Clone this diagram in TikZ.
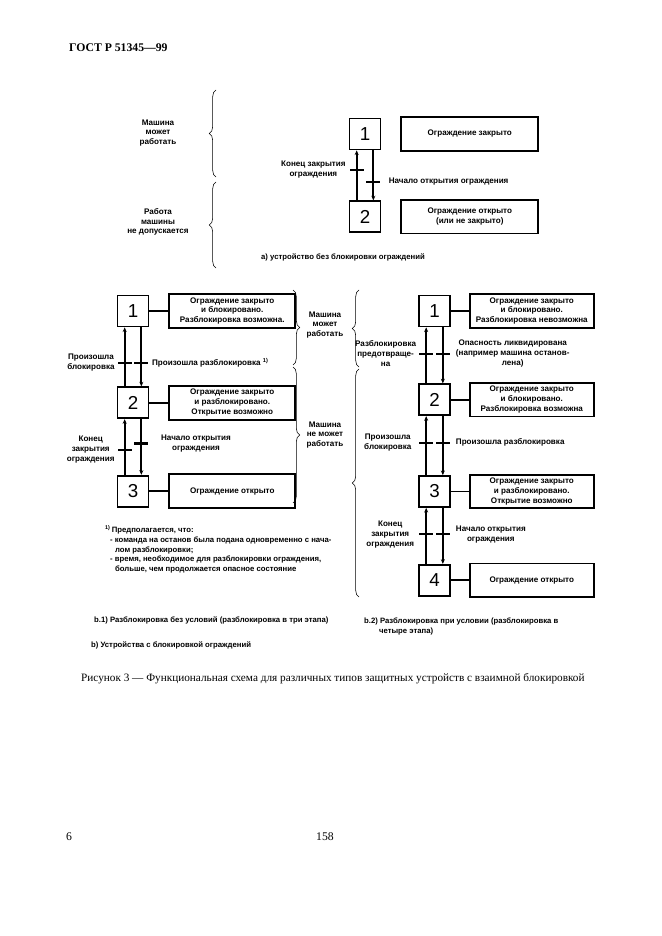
\documentclass[tikz,border=0pt]{standalone}
\usepackage{fontspec}
\setmainfont{Liberation Serif}
\newfontfamily\gostsans{Liberation Sans}
\usepackage{tikz}
\usetikzlibrary{positioning, arrows.meta, decorations.pathreplacing}
\newcommand{\lblfont}{\gostsans\bfseries\fontsize{6.9}{8.4}\selectfont}
\newcommand{\notefont}{\gostsans\bfseries\fontsize{6.6}{8.3}\selectfont}
\newcommand{\digitfont}{\gostsans\fontsize{16}{16}\selectfont}
\tikzstyle{stepbox} = [rectangle, draw=black, line width=1.5pt, minimum width=0.93cm, minimum height=0.93cm, inner sep=0pt, font=\digitfont]
\tikzstyle{statebox} = [rectangle, draw=black, line width=1.5pt, minimum height=1cm, text centered, align=center, inner sep=1pt, font=\lblfont]
\tikzstyle{trbar} = [rectangle, fill=black, minimum width=0.42cm, minimum height=2pt, inner sep=0pt]
\tikzstyle{lbl} = [align=center, font=\lblfont, inner sep=0pt]
\tikzstyle{link} = [line width=1.5pt]
\tikzstyle{arrow} = [line width=1.5pt, -{Stealth[length=1.4mm, width=1.2mm]}]
\tikzstyle{curly} = [decorate, decoration={brace, amplitude=0.2cm}, line width=0.5pt]
\begin{document}
\begin{tikzpicture}[x=0.03cm, y=-0.03cm, node distance=0.57cm]
\path[use as bounding box, fill=white] (0,0) rectangle (661,936);

\node (hdr) [anchor=west, font=\bfseries\fontsize{10}{12}\selectfont] at (65,48) {ГОСТ Р 51345—99};

% a)
\node (a1) [stepbox] at (365,134) {1};
\node (a2) [stepbox, below=1.5cm of a1] {2};
\node (ta1) [statebox, minimum width=4.11cm, right=of a1] {Ограждение закрыто};
\node (ta2) [statebox, minimum width=4.11cm, right=of a2] {Ограждение открыто\\(или не закрыто)};
\draw [arrow] ([xshift=-2.5mm]a2.north) -- node[trbar, pos=0.61] (ba1) {} ([xshift=-2.5mm]a1.south);
\draw [arrow] ([xshift=2.5mm]a1.south) -- node[trbar, pos=0.63] (ba2) {} ([xshift=2.5mm]a2.north);
\node (la1) [lbl, left=0.09cm of ba1] {Конец закрытия\\ограждения};
\node (la2) [lbl, right=0.22cm of ba2] {Начало открытия ограждения};
\draw [curly] (216,177) -- (216,90);
\draw [curly] (216,268) -- (216,182);
\node (ma1) [lbl] at (158,133) {Машина\\может\\работать};
\node (ma2) [lbl] at (158,222) {Работа\\машины\\не допускается};
\node (capa) [anchor=west, font=\notefont] at (257,257) {а) устройство без блокировки ограждений};

% b.1)
\node (p1) [stepbox] at (133,311) {1};
\node (p2) [stepbox, below=1.77cm of p1] {2};
\node (p3) [stepbox, below=1.67cm of p2] {3};
\node (tp1) [statebox, minimum width=3.78cm, minimum height=1.02cm, right=of p1] {Ограждение закрыто\\и блокировано.\\Разблокировка возможна.};
\node (tp2) [statebox, minimum width=3.78cm, minimum height=1.02cm, right=of p2] {Ограждение закрыто\\и разблокировано.\\Открытие возможно};
\node (tp3) [statebox, minimum width=3.78cm, minimum height=1.02cm, right=of p3] {Ограждение открыто};
\draw [link] (p1) -- (tp1);
\draw [link] (p2) -- (tp2);
\draw [link] (p3) -- (tp3);
\draw [arrow] ([xshift=-2.5mm]p2.north) -- node[trbar, pos=0.40] (bp1) {} ([xshift=-2.5mm]p1.south);
\draw [arrow] ([xshift=2.5mm]p1.south) -- node[trbar, pos=0.60] (bp2) {} ([xshift=2.5mm]p2.north);
\draw [arrow] ([xshift=-2.5mm]p3.north) -- node[trbar, pos=0.45] (bp3) {} ([xshift=-2.5mm]p2.south);
\draw [arrow] ([xshift=2.5mm]p2.south) -- node[trbar, pos=0.44] (bp4) {} ([xshift=2.5mm]p3.north);
\node (lp1) [lbl, left=0.06cm of bp1] {Произошла\\блокировка};
\node (lp2) [lbl, right=0.08cm of bp2] {Произошла разблокировка \textsuperscript{1)}};
\node (lp3) [lbl, left=0.06cm of bp3] {Конец\\закрытия\\ограждения};
\node (lp4) [lbl, right=0.35cm of bp4] {Начало открытия\\ограждения};
\draw [curly] (293,290) -- (293,365);
\draw [curly] (293,367) -- (293,503);
\node (mb1) [lbl] at (325,325) {Машина\\может\\работать};
\node (mb2) [lbl] at (325,435) {Машина\\не может\\работать};
\node (note) [anchor=north west, font=\notefont, align=left] at (101,521) {\textsuperscript{1)}\,Предполагается, что:\\
\hspace*{0.15cm}- команда на останов была подана одновременно с нача-\\
\hspace*{0.3cm}лом разблокировки;\\
\hspace*{0.15cm}- время, необходимое для разблокировки ограждения,\\
\hspace*{0.3cm}больше, чем продолжается опасное состояние};

% b.2)
\node (q1) [stepbox] at (434.5,311) {1};
\node (q2) [stepbox, below=1.68cm of q1] {2};
\node (q3) [stepbox, below=1.77cm of q2] {3};
\node (q4) [stepbox, below=1.68cm of q3] {4};
\node (tq1) [statebox, minimum width=3.72cm, right=0.54cm of q1] {Ограждение закрыто\\и блокировано.\\Разблокировка невозможна};
\node (tq2) [statebox, minimum width=3.72cm, right=0.54cm of q2] {Ограждение закрыто\\и блокировано.\\Разблокировка возможна};
\node (tq3) [statebox, minimum width=3.72cm, right=0.54cm of q3] {Ограждение закрыто\\и разблокировано.\\Открытие возможно};
\node (tq4) [statebox, minimum width=3.72cm, right=0.54cm of q4] {Ограждение открыто};
\draw [link] (q1) -- (tq1);
\draw [link] (q2) -- (tq2);
\draw [link] (q3) -- (tq3);
\draw [link] (q4) -- (tq4);
\draw [arrow] ([xshift=-2.5mm]q2.north) -- node[trbar, pos=0.53] (bq1) {} ([xshift=-2.5mm]q1.south);
\draw [arrow] ([xshift=2.5mm]q1.south) -- node[trbar, pos=0.47] (bq2) {} ([xshift=2.5mm]q2.north);
\draw [arrow] ([xshift=-2.5mm]q3.north) -- node[trbar, pos=0.55] (bq3) {} ([xshift=-2.5mm]q2.south);
\draw [arrow] ([xshift=2.5mm]q2.south) -- node[trbar, pos=0.45] (bq4) {} ([xshift=2.5mm]q3.north);
\draw [arrow] ([xshift=-2.5mm]q4.north) -- node[trbar, pos=0.53] (bq5) {} ([xshift=-2.5mm]q3.south);
\draw [arrow] ([xshift=2.5mm]q3.south) -- node[trbar, pos=0.47] (bq6) {} ([xshift=2.5mm]q4.north);
\node (lq1) [lbl, left=0.06cm of bq1] {Разблокировка\\предотвраще-\\на};
\node (lq2) [lbl, right=0.15cm of bq2] {Опасность ликвидирована\\(например машина останов-\\лена)};
\node (lq3) [lbl, left=0.2cm of bq3] {Произошла\\блокировка};
\node (lq4) [lbl, right=0.15cm of bq4] {Произошла разблокировка};
\node (lq5) [lbl, left=0.12cm of bq5] {Конец\\закрытия\\ограждения};
\node (lq6) [lbl, right=0.15cm of bq6] {Начало открытия\\ограждения};
\draw [curly] (359,367) -- (359,290);
\draw [curly] (359,597) -- (359,369);

% captions
\node (capb1) [anchor=west, font=\notefont] at (90,620) {b.1) Разблокировка без условий (разблокировка в три этапа)};
\node (capb2) [anchor=north west, font=\notefont, align=left] at (360,614) {b.2) Разблокировка при условии (разблокировка в\\\hspace*{0.45cm}четыре этапа)};
\node (capb) [anchor=west, font=\notefont] at (87,645) {b) Устройства с блокировкой ограждений};
\node (fig) [anchor=west, font=\fontsize{9.6}{12}\selectfont] at (77,679) {Рисунок 3 — Функциональная схема для различных типов защитных устройств с взаимной блокировкой};
\node (pg) [anchor=west, font=\fontsize{10}{12}\selectfont] at (62,837) {6};
\node (pgn) [anchor=west, font=\fontsize{10}{12}\selectfont] at (312,837) {158};
\end{tikzpicture}
\end{document}
